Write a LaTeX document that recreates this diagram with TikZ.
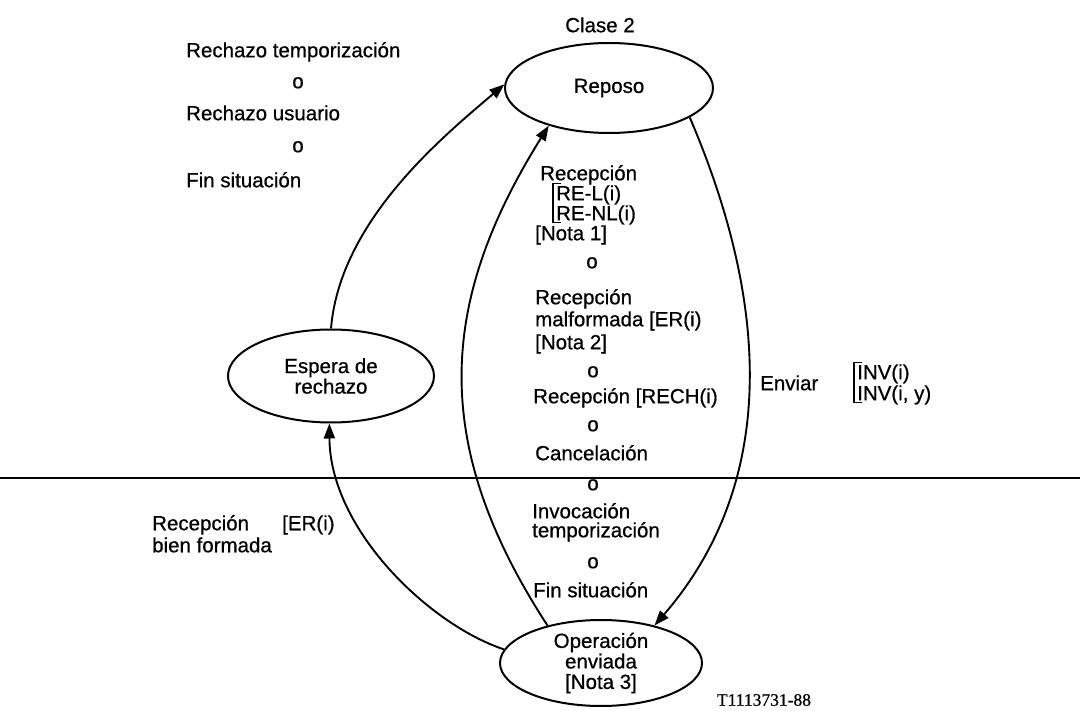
\documentclass[tikz,border=0pt]{standalone}
\usepackage{fontspec}
\setmainfont{Liberation Sans}[FakeBold=0.7]
\newfontfamily\codefont{Liberation Serif}[FakeBold=0.7]
\usetikzlibrary{shapes.geometric,arrows.meta}

\begin{document}
\begin{tikzpicture}[x=1pt,y=-1pt,
  state/.style={ellipse,draw,line width=2pt,inner sep=0pt,align=center,
    font=\fontsize{20.5}{20.5}\selectfont},
  lbl/.style={inner sep=0pt,anchor=west,font=\fontsize{20.5}{20}\selectfont,
    text height=14.5pt,text depth=0pt},
  orw/.style={inner sep=0pt,font=\fontsize{20.5}{20}\selectfont,
    text height=10.5pt,text depth=0pt},
  trans/.style={line width=1.9pt,-{Triangle[length=15pt,width=11pt]}},
  brk/.style={line width=1.4pt}
]
\useasboundingbox (0,0) rectangle (1080,711);

% states
\node[state,minimum width=208pt,minimum height=90pt] (rep) at (609,88) {Reposo};
\node[state,minimum width=206pt,minimum height=93pt] (esp) at (331,376) {Espera de\\rechazo};
\node[state,minimum width=202pt,minimum height=86pt] (op) at (601,663) {Operación\\enviada\\{[}Nota 3{]}};
\node[orw,text height=14.5pt] (clase) at (600,25) {Clase 2};

% divider
\coordinate (dl) at (0,478);
\coordinate (dr) at (1080,478);
\draw[line width=1.4pt] (dl) -- (dr);

% transitions
\draw[trans] (rep.-20) .. controls (768,300) and (780,480) .. (op.35);
\draw[trans] (op.145) .. controls (428,442) and (440,300) .. (rep.212);
\draw[trans] (op.172) .. controls (430,625) and (330,530) .. (esp.268);
\draw[trans] (esp.90) .. controls (340,220) and (445,135) .. (rep.178);

% return to idle
\node[lbl] (rt) at (186,50) {Rechazo temporización};
\node[orw] (ta) at (298,83) {o};
\node[lbl] (ru) at (186,113) {Rechazo usuario};
\node[orw] (tb) at (298,147) {o};
\node[lbl] (fs) at (186,180) {Fin situación};

% conditions leaving the sent state
\node[lbl] (m1) at (540,173) {Recepción};
\node[lbl] (rel) at (556,193) {RE-L(i)};
\node[lbl] (renl) at (556,213) {RE-NL(i)};
\draw[brk] ([shift={(5pt,2pt)}]rel.north west) -- ++(-8pt,0pt) |- ([shift={(5pt,-2pt)}]renl.south west);
\node[lbl] (n1) at (535,233) {[Nota 1]};
\node[orw] (o1) at (592,263) {o};
\node[lbl] (m2) at (535,297) {Recepción};
\node[lbl] (m3) at (535,319) {malformada [ER(i)};
\node[lbl] (n2) at (535,342) {[Nota 2]};
\node[orw] (o2) at (593,372) {o};
\node[lbl] (m4) at (533,396) {Recepción [RECH(i)};
\node[orw] (o3) at (593,426) {o};
\node[lbl] (m5) at (535,453) {Cancelación};
\node[orw] (o4) at (593,485) {o};
\node[lbl] (m6) at (532,511) {Invocación};
\node[lbl] (m7) at (532,530) {temporización};
\node[orw] (o5) at (593,563) {o};
\node[lbl] (m8) at (533,590) {Fin situación};

% sending
\node[lbl] (env) at (760,383) {Enviar};
\node[lbl] (inv1) at (857,372) {INV(i)};
\node[lbl] (inv2) at (857,393) {INV(i, y)};
\draw[brk] ([shift={(5pt,2pt)}]inv1.north west) -- ++(-8pt,0pt) |- ([shift={(5pt,-2pt)}]inv2.south west);

% well-formed reception
\node[lbl] (rb) at (152,523) {Recepción};
\node[lbl] (erb) at (282,523) {[ER(i)};
\node[lbl] (bf) at (152,545) {bien formada};

% figure code
\node[inner sep=0pt,font=\codefont\fontsize{17.5}{18}\selectfont] (code) at (764,700) {T1113731-88};
\end{tikzpicture}
\end{document}
